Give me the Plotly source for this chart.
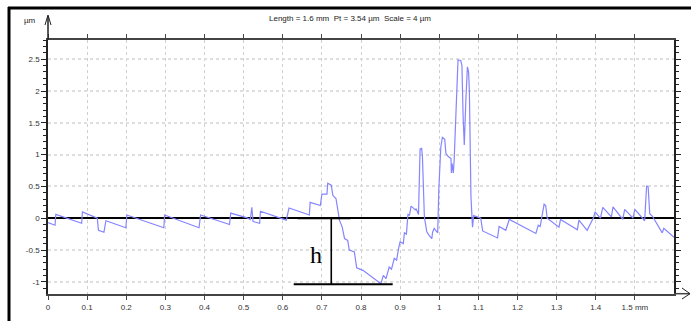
import plotly.graph_objects as go

# Profile data (mm, µm)
x_mm = [0.000, 0.018, 0.020, 0.086, 0.088, 0.126, 0.129, 0.143, 0.148, 0.199,
        0.2015, 0.296, 0.298, 0.386, 0.390, 0.464, 0.467, 0.507, 0.517, 0.521,
        0.524, 0.528, 0.541, 0.543, 0.609, 0.616, 0.668, 0.670, 0.696, 0.700,
        0.713, 0.715, 0.724, 0.728, 0.736, 0.741, 0.745, 0.752, 0.758, 0.766,
        0.770, 0.783, 0.789, 0.805, 0.851, 0.857, 0.864, 0.872, 0.878, 0.885,
        0.891, 0.896, 0.900, 0.908, 0.911, 0.916, 0.920, 0.924, 0.928, 0.939,
        0.941, 0.947, 0.951, 0.955, 0.957, 0.962, 0.968, 0.974, 0.981, 0.983,
        0.987, 0.996, 0.999, 1.004, 1.008, 1.014, 1.017, 1.023, 1.030, 1.031,
        1.033, 1.036, 1.038, 1.043, 1.048, 1.055, 1.058, 1.061, 1.064, 1.068,
        1.072, 1.075, 1.077, 1.081, 1.083, 1.085, 1.088, 1.098, 1.106, 1.111,
        1.149, 1.153, 1.170, 1.179, 1.247, 1.253, 1.258, 1.268, 1.272, 1.276,
        1.306, 1.310, 1.353, 1.357, 1.378, 1.395, 1.398, 1.412, 1.418, 1.440,
        1.444, 1.469, 1.474, 1.495, 1.500, 1.525, 1.530, 1.534, 1.538, 1.545,
        1.570, 1.574, 1.600]
z_um = [-0.07, -0.11, 0.06, -0.08, 0.10, 0.00, -0.19, -0.22, -0.04, -0.15,
        0.05, -0.15, 0.05, -0.15, 0.05, -0.10, 0.08, 0.01, -0.02, 0.17,
        -0.05, -0.06, -0.08, 0.11, -0.03, 0.16, 0.05, 0.25, 0.20, 0.38,
        0.38, 0.55, 0.52, 0.36, 0.31, 0.07, -0.03, -0.14, -0.32, -0.35,
        -0.50, -0.53, -0.78, -0.82, -1.03, -0.90, -0.95, -0.77, -0.80, -0.63,
        -0.66, -0.48, -0.37, -0.40, -0.23, -0.25, 0.06, 0.05, 0.19, 0.13,
        0.15, 0.06, 1.09, 1.10, 0.97, 0.02, -0.21, -0.27, -0.32, -0.22,
        -0.16, -0.23, 0.47, 1.12, 1.27, 1.24, 1.02, 0.97, 0.94, 0.71,
        0.86, 0.71, 0.90, 1.70, 2.49, 2.48, 2.40, 1.60, 1.15, 1.86,
        2.38, 2.30, 2.00, 0.34, 0.02, -0.14, 0.04, 0.02, 0.00, -0.20,
        -0.31, -0.13, -0.19, -0.02, -0.24, -0.11, -0.13, 0.22, 0.20, 0.00,
        -0.14, -0.02, -0.18, -0.03, -0.19, 0.02, 0.10, 0.00, 0.17, 0.02,
        0.18, -0.02, 0.14, 0.00, 0.14, -0.04, 0.51, 0.49, 0.07, 0.03,
        -0.23, -0.16, -0.30]

x_tickvals = [0, 0.1, 0.2, 0.3, 0.4, 0.5, 0.6, 0.7, 0.8, 0.9, 1.0, 1.1, 1.2, 1.3, 1.4, 1.5]
x_ticktext = ["0", "0.1", "0.2", "0.3", "0.4", "0.5", "0.6", "0.7", "0.8", "0.9",
              "1", "1.1", "1.2", "1.3", "1.4", "1.5 mm"]
y_tickvals = [-1, -0.5, 0, 0.5, 1, 1.5, 2, 2.5]
y_ticktext = ["-1", "-0.5", "0", "0.5", "1", "1.5", "2", "2.5"]

title_text = "Length = 1.6 mm  Pt = 3.54 µm  Scale = 4 µm"
unit_text = "µm"
h_label = "h"

# h-measurement marker (data coords)
h_top_y = 0.0
h_bot_y = -1.04

W, H = 691, 321
L, R, T, B = 48, 17, 40, 27
PW, PH = W - L - R, H - T - B


def px(xp):
    return (xp - L) / PW


def py(yp):
    return (H - B - yp) / PH


fig = go.Figure()
fig.add_trace(go.Scatter(x=x_mm, y=z_um, mode="lines",
                         line=dict(color="#8585ff", width=1.2),
                         hoverinfo="skip", showlegend=False))

tickfont = dict(family="Liberation Sans, Arial, sans-serif", size=8, color="#333333")

fig.update_layout(
    width=W, height=H,
    margin=dict(l=L, r=R, t=T, b=B, autoexpand=False),
    paper_bgcolor="white", plot_bgcolor="white",
    showlegend=False,
    xaxis=dict(range=[0, 1.6], tickvals=x_tickvals, ticktext=x_ticktext,
               showgrid=True, gridcolor="#cfcfcf", gridwidth=1, griddash="dot",
               zeroline=False, showline=True, linecolor="#444444", linewidth=2,
               mirror="ticks", ticks="outside", ticklen=4, tickcolor="#444444",
               tickfont=tickfont, fixedrange=True),
    yaxis=dict(range=[-1.192, 2.803], tickvals=y_tickvals, ticktext=y_ticktext,
               showgrid=True, gridcolor="#dedede", gridwidth=2, griddash="dot",
               zeroline=True, zerolinecolor="black", zerolinewidth=1.6,
               showline=True, linecolor="#222222", linewidth=1.5,
               mirror="ticks", ticks="outside", ticklen=5, tickcolor="#222222",
               minor=dict(dtick=0.1, tick0=0, ticks="outside", ticklen=3,
                          tickcolor="#222222", showgrid=False),
               tickfont=tickfont, fixedrange=True),
)

shapes = []
# outer frame (left + top)
shapes.append(dict(type="line", xref="paper", yref="paper",
                   x0=px(9), x1=px(9), y0=py(7), y1=py(321),
                   line=dict(color="black", width=3)))
shapes.append(dict(type="line", xref="paper", yref="paper",
                   x0=px(8), x1=px(691), y0=py(8), y1=py(8),
                   line=dict(color="black", width=3)))
# y-axis extension with arrow
shapes.append(dict(type="line", xref="paper", yref="paper",
                   x0=px(48), x1=px(48), y0=py(40), y1=py(16),
                   line=dict(color="#222222", width=1.5)))
shapes.append(dict(type="path", xref="paper", yref="paper",
                   path=f"M {px(45)},{py(25)} L {px(48)},{py(15)} L {px(51)},{py(25)}",
                   line=dict(color="#222222", width=1)))
# x-axis extension with arrow
shapes.append(dict(type="line", xref="paper", yref="paper",
                   x0=px(674), x1=px(690), y0=py(293.7), y1=py(293.7),
                   line=dict(color="#444444", width=1.5)))
shapes.append(dict(type="path", xref="paper", yref="paper",
                   path=f"M {px(682)},{py(288)} L {px(690)},{py(293.7)} L {px(682)},{py(299)}",
                   line=dict(color="#222222", width=1)))
# h marker
shapes.append(dict(type="line", xref="x", yref="y", x0=0.638, x1=0.773,
                   y0=h_top_y, y1=h_top_y, line=dict(color="black", width=2.2)))
shapes.append(dict(type="line", xref="x", yref="y", x0=0.628, x1=0.881,
                   y0=h_bot_y, y1=h_bot_y, line=dict(color="black", width=2)))
shapes.append(dict(type="line", xref="x", yref="y", x0=0.724, x1=0.724,
                   y0=h_top_y, y1=h_bot_y, line=dict(color="black", width=1.6)))
fig.update_layout(shapes=shapes)

fig.add_annotation(x=px(350), y=py(19), xref="paper", yref="paper",
                   text=title_text, showarrow=False, xanchor="center", yanchor="middle",
                   font=dict(family="Liberation Sans, Arial, sans-serif", size=8, color="#222222"))
fig.add_annotation(x=px(38), y=py(21), xref="paper", yref="paper",
                   text=unit_text, showarrow=False, xanchor="right", yanchor="middle",
                   font=dict(family="Liberation Sans, Arial, sans-serif", size=8, color="#222222"))
fig.add_annotation(x=0.684, y=-0.58, xref="x", yref="y", text=h_label, showarrow=False,
                   xanchor="center", yanchor="middle",
                   font=dict(family="Liberation Serif, Times New Roman, serif", size=24, color="black"))

fig.write_html("out.html", config={"displayModeBar": False},
               post_script="document.body.style.margin='0px';document.body.style.overflow='hidden';")
